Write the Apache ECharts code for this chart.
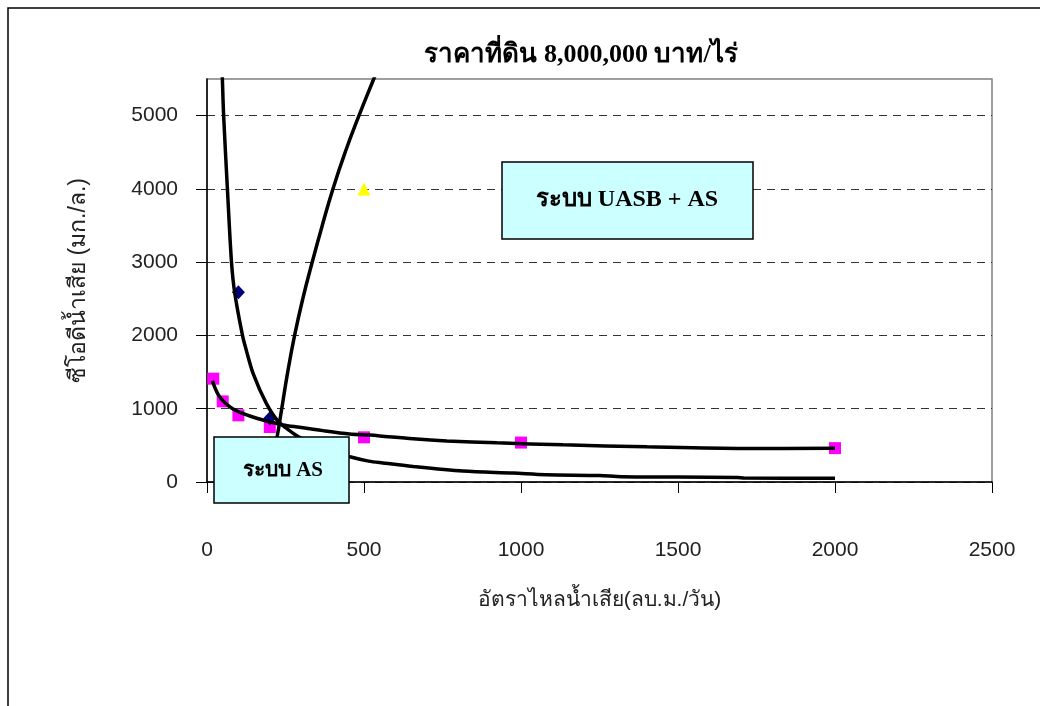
<!DOCTYPE html>
<html>
<head>
<meta charset="utf-8">
<script src="https://cdn.jsdelivr.net/npm/echarts@6/dist/echarts.min.js"></script>
<style>
html,body{margin:0;padding:0;background:#fff;}
#chart{width:1040px;height:706px;}
</style>
</head>
<body>
<div id="chart"></div>
<script>
// ---- data ----
const titleText = 'ราคาที่ดิน 8,000,000 บาท/ไร่';
const xAxisTitle = 'อัตราไหลน้ำเสีย(ลบ.ม./วัน)';
const yAxisTitle = 'ซีโอดีน้ำเสีย (มก./ล.)';
const xTicks = [0, 500, 1000, 1500, 2000, 2500];
const yTicks = [0, 1000, 2000, 3000, 4000, 5000];
const boxUASB = 'ระบบ UASB + AS';
const boxAS = 'ระบบ AS';

const squarePoints = [[20,1410],[50,1100],[100,910],[200,750],[500,610],[1000,538],[2000,462]];
const diamondPoints = [[100,2590],[200,870]];
const trianglePoints = [[200,560],[500,4000]];

const curveUpper = [[17,1380],[40,1163],[83,996],[136,901],[189,833],[242,779],[295,747],[369,701],
  [454,656],[518,640],[551,629],[656,590],[764,561],[923,534],[1134,507],[1401,480],[1707,458],[2000,460]];
const curveDescending = [[47,5800],[49,5500],[53,5000],[65,4000],[78,3000],[88,2590],[113,2000],[125,1800],
  [147,1480],[189,1073],[226,830],[263,700],[290,620],[370,450],[455,345],[515,285],[560,260],
  [656,212],[815,150],[975,122],[1080,100],[1250,88],[1320,72],[1500,68],[1690,62],[1710,55],[2000,52]];
const curveAscending = [[212,400],[223,611],[238,1000],[257,1500],[279,2000],[305,2500],[335,3000],
  [367,3500],[401,4000],[440,4500],[484,5000],[531,5500],[550,5700]];

const chart = echarts.init(document.getElementById('chart'), null, {renderer:'canvas'});

const lineStyle = {color:'#000', width:3.5};
function curve(data, s){
  return {type:'line', data:data, showSymbol:false, symbol:'none', smooth:s,
    lineStyle:lineStyle, z:5, silent:true, clip:true};
}
const sans = '"Liberation Sans",Arial,sans-serif';
const serif = '"Liberation Serif","Times New Roman",serif';

const option = {
  backgroundColor:'#fff',
  animation:false,
  title:{
    text:titleText, left:576, top:37, textAlign:'center',
    textStyle:{fontFamily:serif, fontWeight:'bold', fontSize:26, color:'#000'}
  },
  grid:{left:207, right:48, top:79, bottom:224, show:true, borderColor:'#808080', borderWidth:1.5, containLabel:false},
  xAxis:{
    type:'value', min:0, max:2500, interval:500,
    name:xAxisTitle, nameLocation:'middle', nameGap:108,
    nameTextStyle:{fontFamily:sans, fontSize:21, color:'#222'},
    axisLine:{show:true, onZero:false, lineStyle:{color:'#000', width:1.5}},
    axisTick:{show:true, inside:false, length:11, customValues:xTicks, lineStyle:{color:'#000', width:1}},
    axisLabel:{margin:58, customValues:xTicks, fontFamily:sans, fontSize:21, color:'#222',
      formatter:function(v){return String(v);}},
    splitLine:{show:false}
  },
  yAxis:{
    type:'value', min:0, max:5500, interval:1000,
    name:yAxisTitle, nameLocation:'middle', nameGap:117, nameRotate:90,
    nameTextStyle:{fontFamily:sans, fontSize:23, color:'#222'},
    axisLine:{show:true, lineStyle:{color:'#000', width:1.5}},
    axisTick:{show:true, length:11, customValues:yTicks, lineStyle:{color:'#000', width:1}},
    axisLabel:{margin:29, customValues:yTicks, fontFamily:sans, fontSize:21, color:'#222',
      formatter:function(v){return String(v);}},
    splitLine:{show:true, lineStyle:{color:'#333', width:1, type:[8,6]}}
  },
  series:[
    {type:'scatter', data:squarePoints, symbol:'rect', symbolSize:12, itemStyle:{color:'#FF00FF', opacity:1}, z:3, silent:true},
    {type:'scatter', data:diamondPoints, symbol:'diamond', symbolSize:[13,14], itemStyle:{color:'#000080', opacity:1}, z:3, silent:true},
    {type:'scatter', data:trianglePoints, symbol:'triangle', symbolSize:13, itemStyle:{color:'#FFFF00', opacity:1}, z:3, silent:true},
    curve(curveUpper, 0.3),
    curve(curveDescending, 0.3),
    curve(curveAscending, 0.5)
  ],
  graphic:[
    {type:'rect', shape:{x:8, y:8, width:1100, height:800}, style:{fill:'none', stroke:'#000', lineWidth:1.5}, z:100, silent:true},
    {type:'rect', shape:{x:502, y:162, width:251, height:77}, style:{fill:'#CCFFFF', stroke:'#000', lineWidth:1.5}, z:100, silent:true},
    {type:'text', x:627, y:200, style:{text:boxUASB, textAlign:'center', textVerticalAlign:'middle',
      font:'bold 24px ' + serif, fill:'#000'}, z:101, silent:true},
    {type:'rect', shape:{x:214, y:437, width:135, height:66}, style:{fill:'#CCFFFF', stroke:'#000', lineWidth:1.5}, z:100, silent:true},
    {type:'text', x:283, y:471, style:{text:boxAS, textAlign:'center', textVerticalAlign:'middle',
      font:'bold 21px ' + serif, fill:'#000'}, z:101, silent:true}
  ]
};
chart.setOption(option);
</script>
</body>
</html>
